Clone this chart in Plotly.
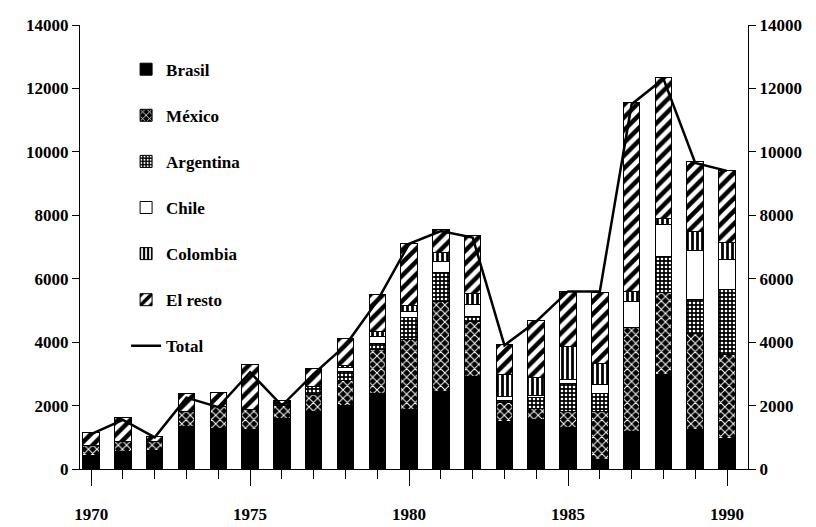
import plotly.graph_objects as go

years = list(range(1970, 1991))
brasil    = [420, 545, 590, 1340, 1270, 1250, 1600, 1810, 1990, 2390, 1890, 2440, 2910, 1500, 1565, 1300, 290, 1180, 2965, 1230, 965]
mexico    = [320, 315, 270, 460, 700, 630, 400, 525, 800, 1370, 2180, 2840, 1740, 600, 350, 510, 1520, 3290, 2595, 3050, 2630]
argentina = [0, 0, 0, 0, 0, 0, 50, 280, 270, 200, 715, 915, 155, 50, 330, 890, 580, 0, 1140, 1070, 2075]
chile     = [0, 0, 0, 0, 0, 0, 0, 0, 150, 210, 175, 345, 370, 150, 80, 120, 260, 810, 1000, 1535, 945]
colombia  = [0, 0, 0, 0, 0, 0, 0, 0, 50, 150, 180, 285, 365, 680, 550, 1030, 685, 315, 210, 600, 525]
resto     = [410, 760, 160, 570, 430, 1420, 100, 560, 840, 1190, 1980, 715, 1820, 950, 1795, 1745, 2240, 5960, 4445, 2210, 2260]
total     = [1100, 1550, 1000, 2250, 1950, 3050, 2000, 3000, 3900, 5300, 7100, 7500, 7300, 3900, 4650, 5600, 5600, 11500, 12300, 9650, 9400]

y_ticks = [0, 2000, 4000, 6000, 8000, 10000, 12000, 14000]
y_labels = [str(v) for v in y_ticks]
x_major = [1970, 1975, 1980, 1985, 1990]

series = [
    ("Brasil", brasil, dict(color="black")),
    ("México", mexico, dict(color="black", pattern=dict(shape="x", fgcolor="white", bgcolor="black", fgopacity=1, size=6, solidity=0.3))),
    ("Argentina", argentina, dict(color="black", pattern=dict(shape=".", fgcolor="white", bgcolor="black", fgopacity=1, size=4, solidity=0.35))),
    ("Chile", chile, dict(color="white")),
    ("Colombia", colombia, dict(color="white", pattern=dict(shape="|", fgcolor="black", bgcolor="white", fgopacity=1, size=5, solidity=0.55))),
    ("El resto", resto, dict(color="white", pattern=dict(shape="/", fgcolor="black", bgcolor="white", fgopacity=1, size=9, solidity=0.5))),
]

fig = go.Figure()
for i, (name, vals, mk) in enumerate(series):
    mk = dict(mk)
    mk["line"] = dict(color="black", width=1)
    fig.add_trace(go.Bar(x=years, y=vals, name=name, marker=mk, width=0.52,
                         legendgroup=f"g{i}"))

fig.add_trace(go.Scatter(x=years, y=total, name="Total", mode="lines",
                         line=dict(color="black", width=2.5), legendgroup="g9"))
# carrier for the right-hand axis
fig.add_trace(go.Scatter(x=years, y=total, yaxis="y2", mode="lines", opacity=0,
                         showlegend=False, hoverinfo="skip", line=dict(width=0)))

fig.update_layout(
    width=816, height=527,
    margin=dict(l=72, r=76, t=17, b=66),
    barmode="stack",
    plot_bgcolor="white", paper_bgcolor="white",
    font=dict(family="Liberation Serif", size=17, color="black", weight="bold"),
    showlegend=True,
    legend=dict(x=0.069, y=0.94, xanchor="left", yanchor="top",
                traceorder="grouped", tracegroupgap=21,
                font=dict(family="Liberation Serif", size=17, color="black", weight="bold"),
                bgcolor="rgba(0,0,0,0)"),
    xaxis=dict(range=[1969.65, 1990.66], tickvals=x_major, ticks="outside", ticklen=16,
               tickcolor="black", tickwidth=1, showline=True, linecolor="black", linewidth=1,
               showgrid=False, zeroline=False, ticklabelstandoff=14, automargin=False,
               minor=dict(dtick=1, tick0=1970, ticks="outside", ticklen=9, tickcolor="black", showgrid=False)),
    yaxis=dict(range=[0, 14000], tickvals=y_ticks, ticktext=y_labels, ticks="outside", ticklen=7,
               tickcolor="black", showline=True, linecolor="black", linewidth=1,
               showgrid=False, zeroline=False, automargin=False),
    yaxis2=dict(range=[0, 14000], tickvals=y_ticks, ticktext=y_labels, ticks="outside", ticklen=7,
                tickcolor="black", showline=True, linecolor="black", linewidth=1,
                showgrid=False, zeroline=False, overlaying="y", side="right", automargin=False),
)

fig.write_html("out.html")
